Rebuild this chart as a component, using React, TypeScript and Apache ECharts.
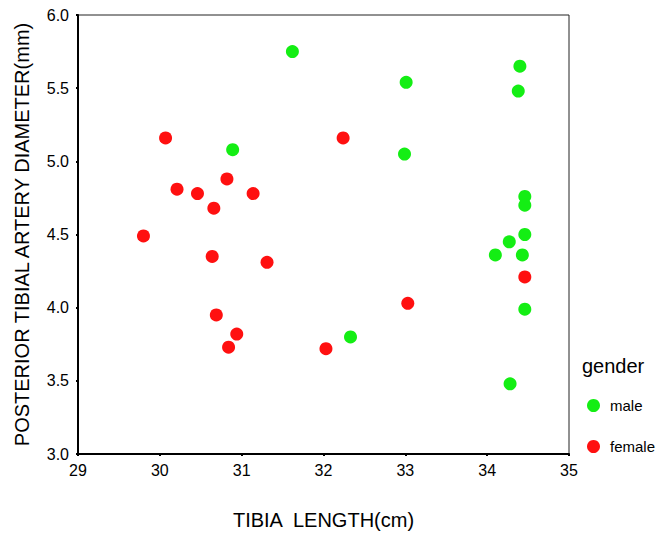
import React, { useEffect, useRef } from "react";
import * as echarts from "echarts";

const xTicks = [29, 30, 31, 32, 33, 34, 35];
const yTicks = [3.0, 3.5, 4.0, 4.5, 5.0, 5.5, 6.0];

const maleLength = [31.62, 30.89, 33.01, 32.99, 34.4, 34.38, 34.46, 34.46, 34.46, 34.27, 34.1, 34.43, 34.46, 32.33, 34.28];
const maleDiameter = [5.75, 5.08, 5.54, 5.05, 5.65, 5.48, 4.76, 4.7, 4.5, 4.45, 4.36, 4.36, 3.99, 3.8, 3.48];

const femaleLength = [30.07, 32.24, 30.82, 30.21, 30.46, 31.14, 30.66, 29.8, 30.64, 31.31, 30.69, 30.94, 30.84, 32.03, 33.03, 34.46];
const femaleDiameter = [5.16, 5.16, 4.88, 4.81, 4.78, 4.78, 4.68, 4.49, 4.35, 4.31, 3.95, 3.82, 3.73, 3.72, 4.03, 4.21];

const groups = ["male", "female"];
const FONT = "'Liberation Sans', Arial, Helvetica, sans-serif";

export default function App() {
  const ref = useRef<HTMLDivElement>(null);
  useEffect(() => {
    if (!ref.current) return;
    const chart = echarts.init(ref.current, undefined, { renderer: "svg" });
    const pair = (xs: number[], ys: number[]) => xs.map((x, i) => [x, ys[i]]);
    chart.setOption({
      animation: false,
      backgroundColor: "#ffffff",
      grid: {
        left: 78,
        top: 15,
        right: 92,
        bottom: 79,
        show: true,
        borderColor: "#222",
        borderWidth: 1,
        containLabel: false,
      },
      xAxis: {
        type: "value",
        min: xTicks[0],
        max: xTicks[xTicks.length - 1],
        interval: 1,
        name: "TIBIA  LENGTH(cm)",
        nameLocation: "middle",
        nameGap: 56,
        nameTextStyle: { fontFamily: FONT, fontSize: 20, color: "#000" },
        axisLine: { show: true, onZero: false, lineStyle: { color: "#000", width: 2 } },
        axisTick: { show: true, length: 2, lineStyle: { color: "#000", width: 2 } },
        axisLabel: { fontFamily: FONT, fontSize: 16, color: "#000", margin: 8 },
        splitLine: { show: false },
      },
      yAxis: {
        type: "value",
        min: yTicks[0],
        max: yTicks[yTicks.length - 1],
        interval: 0.5,
        name: "POSTERIOR TIBIAL ARTERY DIAMETER(mm)",
        nameLocation: "middle",
        nameGap: 46,
        nameTextStyle: { fontFamily: FONT, fontSize: 20, color: "#000" },
        axisLine: { show: true, onZero: false, lineStyle: { color: "#000", width: 2 } },
        axisTick: { show: true, length: 2, lineStyle: { color: "#000", width: 2 } },
        axisLabel: {
          fontFamily: FONT,
          fontSize: 16,
          color: "#000",
          margin: 9,
          formatter: (v: number) => v.toFixed(1),
        },
        splitLine: { show: false },
      },
      legend: {
        data: groups,
        orient: "vertical",
        left: 587,
        top: 398,
        padding: 0,
        itemWidth: 13,
        itemHeight: 13,
        itemGap: 26,
        icon: "circle",
        textStyle: { fontFamily: FONT, fontSize: 15, color: "#000", padding: [0, 0, 0, 5] },
      },
      graphic: [
        {
          type: "text",
          left: 582,
          top: 356,
          style: { text: "gender", fontFamily: FONT, fontSize: 20, fill: "#000" },
        },
      ],
      series: [
        {
          name: groups[0],
          type: "scatter",
          symbol: "circle",
          symbolSize: 13,
          itemStyle: { color: "#14ee14", opacity: 1 },
          data: pair(maleLength, maleDiameter),
        },
        {
          name: groups[1],
          type: "scatter",
          symbol: "circle",
          symbolSize: 13,
          itemStyle: { color: "#ff1010", opacity: 1 },
          data: pair(femaleLength, femaleDiameter),
        },
      ],
    });
    return () => chart.dispose();
  }, []);
  return <div ref={ref} style={{ width: 661, height: 535, position: "absolute", left: 0, top: 0 }} />;
}
